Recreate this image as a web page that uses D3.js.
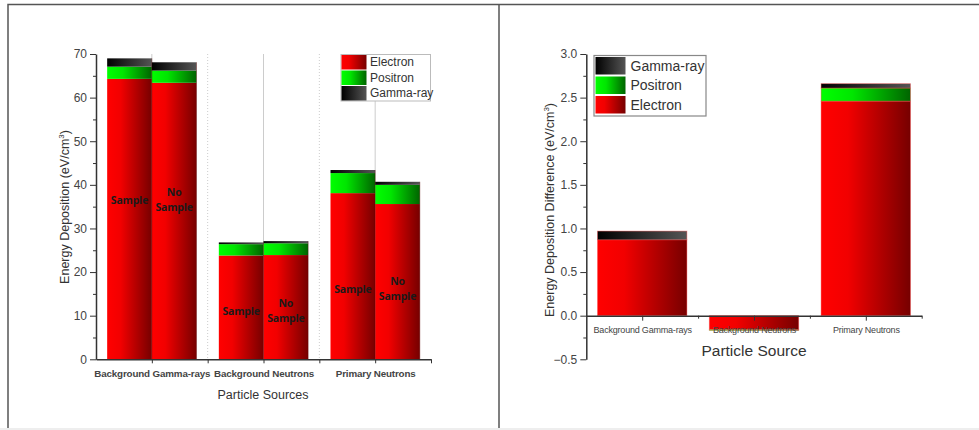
<!DOCTYPE html>
<html>
<head>
<meta charset="utf-8">
<script src="https://d3js.org/d3.v7.min.js"></script>
<style>
    body { margin: 0; background: #fff; }
    .axis text { fill: #444; font-family: "Liberation Sans", Arial, sans-serif; }
    .axis path, .axis line { stroke: #333; }
    .title { fill: #333; font-family: "Liberation Sans", Arial, sans-serif; }
    .barlabel { fill: #1a1a1a; font-family: "Open Sans", sans-serif; font-weight: 700; font-size: 10.5px; letter-spacing: -0.2px; }
</style>
</head>
<body>
<svg id="fig" width="979" height="430"></svg>
<script>
    // particle sources / bar captions
    const groups = ["Background Gamma-rays", "Background Neutrons", "Primary Neutrons"];
    const barCaptions = ["Sample", "No Sample"];
    const series = ["Electron", "Positron", "Gamma-ray"];

    // left plot: energy deposition (eV/cm3), order per group = sample, no sample
    const electronDep = [64.3, 63.4, 23.8, 23.9, 38.1, 35.6];
    const positronDep = [2.8, 2.8, 2.6, 2.7, 4.6, 4.4];
    const gammaDep = [1.9, 1.9, 0.4, 0.5, 0.7, 0.7];
    // where the caption sits on the bar (eV/cm3) per group
    const captionLevel = [36.5, 11, 16.2];

    // right plot: difference sample - no sample
    const electronDiff = [0.87, -0.16, 2.46];
    const positronDiff = [0.0, -0.01, 0.15];
    const gammaDiff = [0.10, 0.0, 0.05];

    const leftTicks = d3.range(0, 71, 10);
    const rightTicks = d3.range(-0.5, 3.01, 0.5);

    const svg = d3.select("#fig");
    const defs = svg.append("defs");

    const grads = {
        "Electron": [["0%", "#ff0000"], ["30%", "#f20000"], ["100%", "#760000"]],
        "Positron": [["0%", "#00ff00"], ["35%", "#00e600"], ["100%", "#006400"]],
        "Gamma-ray": [["0%", "#000000"], ["100%", "#555555"]]
    };
    Object.entries(grads).forEach(([k, stops], i) => {
        let g = defs.append("linearGradient").attr("id", "g" + i)
            .attr("x1", 0).attr("x2", 1).attr("y1", 0).attr("y2", 0);
        stops.forEach(s => g.append("stop").attr("offset", s[0]).attr("stop-color", s[1]));
    });
    const fillOf = name => "url(#g" + series.indexOf(name) + ")";

    // frame around the two panels
    svg.append("path")
        .attr("d", "M8,428 V4.5 H979 M499,4.5 V428")
        .attr("fill", "none").attr("stroke", "#555").attr("stroke-width", 1.5);
    svg.append("line").attr("x1", 0).attr("x2", 979).attr("y1", 429).attr("y2", 429)
        .attr("stroke", "#eee").attr("stroke-width", 2);

    // ---------- left chart ----------
    const xL = d3.scaleLinear().domain([0.5, 3.5]).range([96, 431]);
    const yL = d3.scaleLinear().domain([0, 70]).range([359.3, 54]);
    const left = svg.append("g");

    [1, 2, 3].forEach(v => left.append("line")
        .attr("x1", xL(v)).attr("x2", xL(v)).attr("y1", yL(70)).attr("y2", yL(0))
        .attr("stroke", "#ccc").attr("stroke-width", 1));
    [1.5, 2.5].forEach(v => left.append("line")
        .attr("x1", xL(v)).attr("x2", xL(v)).attr("y1", yL(70)).attr("y2", yL(0))
        .attr("stroke", "#ccc").attr("stroke-dasharray", "1,2"));

    const leftRows = electronDep.map((e, i) => ({
        idx: i, "Electron": e, "Positron": positronDep[i], "Gamma-ray": gammaDep[i]
    }));
    const leftStack = d3.stack().keys(series)(leftRows);
    const barW = 0.4;
    const xPos = i => Math.floor(i / 2) + 1 - barW + (i % 2) * barW;

    left.selectAll("g.layer").data(leftStack).join("g")
        .attr("class", "layer")
        .attr("fill", d => fillOf(d.key))
        .selectAll("rect").data(d => d).join("rect")
        .attr("x", d => xL(xPos(d.data.idx)))
        .attr("width", d => xL(xPos(d.data.idx) + barW) - xL(xPos(d.data.idx)))
        .attr("y", d => yL(d[1]))
        .attr("height", d => yL(d[0]) - yL(d[1]));

    // thin separators on the bars
    left.selectAll("line.sep").data(leftRows).join("line")
        .attr("x1", d => xL(xPos(d.idx) + barW)).attr("x2", d => xL(xPos(d.idx) + barW))
        .attr("y1", d => yL(d["Electron"] + d["Positron"] + d["Gamma-ray"])).attr("y2", yL(0))
        .attr("stroke", "#5a0000").attr("stroke-width", 0.6).attr("opacity", 0.6);

    // captions on bars
    leftRows.forEach(d => {
        const cx = xL(xPos(d.idx) + barW / 2);
        const cy = yL(captionLevel[Math.floor(d.idx / 2)]);
        const words = barCaptions[d.idx % 2].split(" ");
        const t = left.append("text").attr("class", "barlabel").attr("text-anchor", "middle");
        if (words.length === 1) {
            t.attr("x", cx).attr("y", cy + 4).text(words[0]);
        } else {
            t.append("tspan").attr("x", cx).attr("y", cy - 4).text(words[0]);
            t.append("tspan").attr("x", cx).attr("y", cy + 11).text(words[1]);
        }
    });

    const yAxL = left.append("g").attr("class", "axis").attr("transform", "translate(96,0)")
        .call(d3.axisLeft(yL).tickValues(leftTicks).tickSize(6).tickSizeOuter(0).tickPadding(3));
    yAxL.selectAll("text").style("font-size", "12px");
    left.append("g").attr("class", "axis").attr("transform", "translate(96,0)")
        .call(d3.axisLeft(yL).tickValues(d3.range(5, 70, 10)).tickSize(3).tickFormat("").tickSizeOuter(0))
        .select(".domain").remove();
    yAxL.select(".domain").attr("stroke-width", 1.5);

    const xAxL = left.append("g").attr("class", "axis").attr("transform", "translate(0," + yL(0) + ")")
        .call(d3.axisBottom(xL).tickValues([1, 2, 3]).tickFormat(v => groups[v - 1])
            .tickSize(4).tickSizeOuter(0).tickPadding(7));
    xAxL.select(".domain").attr("stroke-width", 1.5);
    xAxL.selectAll("text").style("font-size", "9.8px").style("font-weight", "bold").attr("fill", "#333")
        .style("letter-spacing", "-0.15px");
    left.append("g").attr("class", "axis").attr("transform", "translate(0," + yL(0) + ")")
        .call(d3.axisBottom(xL).tickValues([1.5, 2.5, 3.5]).tickSize(4).tickFormat(""))
        .select(".domain").remove();

    left.append("text").attr("class", "title")
        .attr("x", 263).attr("y", 399).attr("text-anchor", "middle")
        .style("font-size", "12.5px").text("Particle Sources");
    const ytl = left.append("text").attr("class", "title")
        .attr("transform", "translate(69,207) rotate(-90)").attr("text-anchor", "middle")
        .style("font-size", "12.5px");
    ytl.append("tspan").text("Energy Deposition (eV/cm");
    ytl.append("tspan").attr("dy", -5).style("font-size", "8px").text("3");
    ytl.append("tspan").attr("dy", 5).text(")");

    // legend left
    const legL = left.append("g").attr("transform", "translate(341,54.5)");
    legL.append("rect").attr("width", 89.5).attr("height", 46.5)
        .attr("fill", "#fff").attr("stroke", "#bbb");
    series.forEach((s, i) => {
        legL.append("rect").attr("x", 0.5).attr("y", 0.5 + i * 15.5)
            .attr("width", 25).attr("height", 14.5).attr("fill", fillOf(s));
        legL.append("text").attr("class", "title").attr("x", 29).attr("y", 11.5 + i * 15.5)
            .style("font-size", "12px").text(s);
    });

    // ---------- right chart ----------
    const xR = d3.scaleLinear().domain([0.5, 3.5]).range([586.3, 921.7]);
    const yR = d3.scaleLinear().domain([-0.5, 3.0]).range([359.3, 54]);
    const right = svg.append("g");

    const rightRows = groups.map((g, i) => ({
        idx: i, "Electron": electronDiff[i], "Positron": positronDiff[i], "Gamma-ray": gammaDiff[i]
    }));
    const rightStack = d3.stack().keys(series).offset(d3.stackOffsetDiverging)(rightRows);
    const bw = 0.8;

    right.selectAll("g.layer").data(rightStack).join("g")
        .attr("class", "layer")
        .attr("fill", d => fillOf(d.key))
        .selectAll("rect").data(d => d).join("rect")
        .attr("x", d => xR(d.data.idx + 1 - bw / 2))
        .attr("width", d => xR(d.data.idx + 1 + bw / 2) - xR(d.data.idx + 1 - bw / 2))
        .attr("y", d => yR(Math.max(d[0], d[1])))
        .attr("height", d => Math.abs(yR(d[0]) - yR(d[1])))
        .attr("stroke", d => d[1] !== d[0] ? "rgba(255,80,80,0.5)" : "none")
        .attr("stroke-width", 0.8);

    const yAxR = right.append("g").attr("class", "axis").attr("transform", "translate(586.3,0)")
        .call(d3.axisLeft(yR).tickValues(rightTicks).tickFormat(d3.format(".1f"))
            .tickSize(6).tickSizeOuter(0).tickPadding(3));
    yAxR.selectAll("text").style("font-size", "12px");
    yAxR.select(".domain").attr("stroke-width", 1.5);
    right.append("g").attr("class", "axis").attr("transform", "translate(586.3,0)")
        .call(d3.axisLeft(yR).tickValues(d3.range(-0.25, 3, 0.5)).tickSize(3).tickFormat("").tickSizeOuter(0))
        .select(".domain").remove();

    const xAxR = right.append("g").attr("class", "axis").attr("transform", "translate(0," + yR(0) + ")")
        .call(d3.axisBottom(xR).tickValues([1, 2, 3]).tickFormat(v => groups[v - 1])
            .tickSize(5).tickSizeOuter(0).tickPadding(6));
    xAxR.select(".domain").attr("stroke-width", 1.5);
    xAxR.selectAll("text").style("font-size", "9px").attr("fill", "#333").style("letter-spacing", "-0.2px");
    right.append("g").attr("class", "axis").attr("transform", "translate(0," + yR(0) + ")")
        .call(d3.axisBottom(xR).tickValues([1.5, 2.5, 3.5]).tickSize(3).tickFormat(""))
        .select(".domain").remove();

    right.append("text").attr("class", "title")
        .attr("x", 754).attr("y", 356).attr("text-anchor", "middle")
        .style("font-size", "15.5px").text("Particle Source");
    const ytr = right.append("text").attr("class", "title")
        .attr("transform", "translate(554,210) rotate(-90)").attr("text-anchor", "middle")
        .style("font-size", "12.5px");
    ytr.append("tspan").text("Energy Deposition Difference (eV/cm");
    ytr.append("tspan").attr("dy", -5).style("font-size", "8px").text("3");
    ytr.append("tspan").attr("dy", 5).text(")");

    // legend right (reverse order)
    const legR = right.append("g").attr("transform", "translate(594,55.5)");
    legR.append("rect").attr("width", 112).attr("height", 60.5)
        .attr("fill", "#fff").attr("stroke", "#888").attr("stroke-width", 1.2);
    series.slice().reverse().forEach((s, i) => {
        legR.append("rect").attr("x", 1.5).attr("y", 1.5 + i * 19.5)
            .attr("width", 30).attr("height", 17.5).attr("fill", fillOf(s));
        legR.append("text").attr("class", "title").attr("x", 36.5).attr("y", 15 + i * 19.5)
            .style("font-size", "14px").attr("fill", "#222").text(s);
    });
</script>
</body>
</html>
